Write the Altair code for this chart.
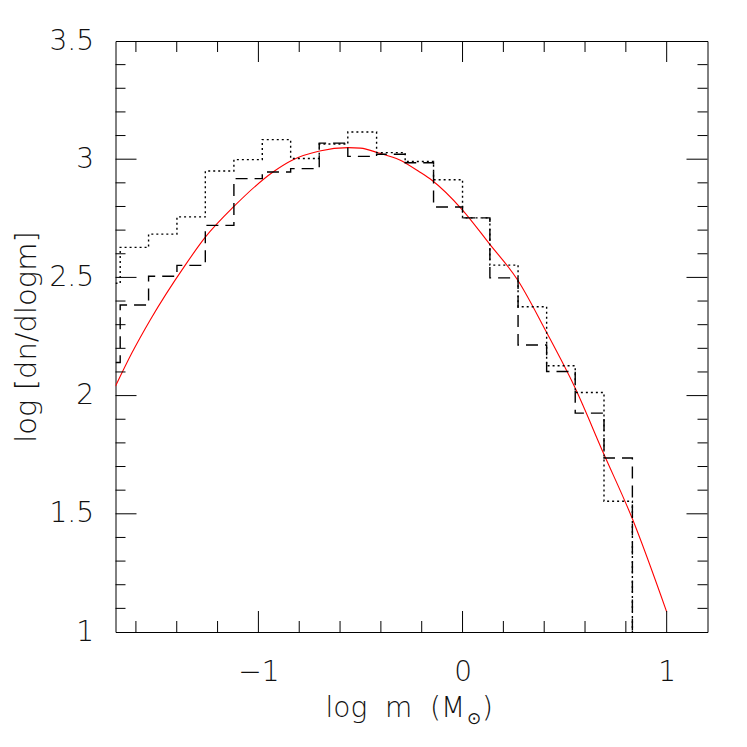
import altair as alt
import pandas as pd

# ---- data ----
bin_edges = [-1.700, -1.677, -1.538, -1.399, -1.260, -1.120, -0.981, -0.842, -0.702,
             -0.562, -0.421, -0.281, -0.142, 0.000, 0.134, 0.272, 0.412, 0.552, 0.693, 0.832]
dashed_vals = [2.14, 2.383, 2.505, 2.551, 2.720, 2.918, 2.946, 2.960, 3.068, 3.012,
               3.021, 2.985, 2.798, 2.752, 2.498, 2.214, 2.102, 1.926, 1.736, 1.0]
dotted_vals = [2.475, 2.627, 2.683, 2.756, 2.950, 2.998, 3.083, 3.003, 3.064, 3.115,
               3.028, 2.990, 2.913, 2.752, 2.552, 2.376, 2.126, 2.013, 1.553, 1.0]

curve_x = [-1.70, -1.62, -1.53, -1.36, -1.26, -1.12, -0.93, -0.83, -0.70, -0.56, -0.50,
           -0.41, -0.31, -0.21, -0.15, 0.00, 0.13, 0.27, 0.41, 0.55, 0.69, 0.83, 1.00]
curve_y = [2.04, 2.18, 2.32, 2.55, 2.67, 2.80, 2.945, 2.998, 3.035, 3.049, 3.047,
           3.026, 2.998, 2.946, 2.911, 2.785, 2.644, 2.489, 2.27, 2.035, 1.757, 1.483, 1.085]

x_major = [-1.0, 0.0, 1.0]
x_minor = [-1.6, -1.4, -1.2, -0.8, -0.6, -0.4, -0.2, 0.2, 0.4, 0.6, 0.8]
y_major = [1.5, 2.0, 2.5, 3.0]
y_minor = [1.1, 1.2, 1.3, 1.4, 1.6, 1.7, 1.8, 1.9, 2.1, 2.2, 2.3, 2.4,
           2.6, 2.7, 2.8, 2.9, 3.1, 3.2, 3.3, 3.4]
y_labels = [1.0, 1.5, 2.0, 2.5, 3.0, 3.5]

x_title_main = "log\u00a0\u00a0m\u00a0\u00a0(M"
x_title_sub = "\u2299"
x_title_end = ")"
y_title = "log\u00a0[dn/dlogm]"

W, H = 592, 591
FONT = "DejaVu Sans"
FW = 200
TXT = "#111"

xs = alt.Scale(domain=[-1.7, 1.2], nice=False, zero=False)
ys = alt.Scale(domain=[1.0, 3.5], nice=False, zero=False)

hist = pd.DataFrame({"edge": bin_edges, "dashed": dashed_vals, "dotted": dotted_vals})
curve = pd.DataFrame({"x": curve_x, "y": curve_y})

x_axis = alt.Axis(values=x_major, format="~g", ticks=False, domain=False, grid=False,
                  labelFontSize=28, labelFont=FONT, labelFontWeight=FW, labelColor=TXT,
                  labelPadding=26, title="")
y_axis = alt.Axis(values=y_labels, format="~g", ticks=False, domain=False, grid=False,
                  labelFontSize=28, labelFont=FONT, labelFontWeight=FW, labelColor=TXT,
                  labelPadding=22, title=y_title, titleFont=FONT,
                  titleFontSize=29, titleFontWeight=FW, titleColor=TXT,
                  titleX=-80, titleY=H / 2, titleBaseline="alphabetic", titleAngle=-90)

red = alt.Chart(curve).mark_line(color="#ff0000", strokeWidth=1.1, clip=True,
                                 interpolate="monotone").encode(
    x=alt.X("x:Q", scale=xs, axis=x_axis),
    y=alt.Y("y:Q", scale=ys, axis=y_axis),
)

dashed = alt.Chart(hist).mark_line(color="black", strokeWidth=1.4, strokeDash=[12, 7],
                                   interpolate="step-after", clip=True).encode(
    x=alt.X("edge:Q", scale=xs, axis=x_axis),
    y=alt.Y("dashed:Q", scale=ys, axis=y_axis),
)
dotted = alt.Chart(hist).mark_line(color="black", strokeWidth=1.4, strokeDash=[2, 3],
                                   interpolate="step-after", clip=True).encode(
    x=alt.X("edge:Q", scale=xs, axis=x_axis),
    y=alt.Y("dotted:Q", scale=ys, axis=y_axis),
)


def xticks(vals, length):
    df = pd.DataFrame({"v": vals})
    b = alt.Chart(df).mark_rule(color="black", strokeWidth=1).encode(
        x=alt.X("v:Q", scale=xs, axis=x_axis), y=alt.value(H), y2=alt.value(H - length))
    t = alt.Chart(df).mark_rule(color="black", strokeWidth=1).encode(
        x=alt.X("v:Q", scale=xs, axis=x_axis), y=alt.value(0), y2=alt.value(length))
    return [b, t]


def yticks(vals, length):
    df = pd.DataFrame({"v": vals})
    l = alt.Chart(df).mark_rule(color="black", strokeWidth=1).encode(
        y=alt.Y("v:Q", scale=ys, axis=y_axis), x=alt.value(0), x2=alt.value(length))
    r = alt.Chart(df).mark_rule(color="black", strokeWidth=1).encode(
        y=alt.Y("v:Q", scale=ys, axis=y_axis), x=alt.value(W), x2=alt.value(W - length))
    return [l, r]


def title_text(txt, px, py, size):
    df = pd.DataFrame({"t": [txt]})
    return alt.Chart(df).mark_text(font=FONT, fontWeight=FW, fontSize=size, color=TXT,
                                   align="left", baseline="alphabetic").encode(
        text="t:N", x=alt.value(px), y=alt.value(py))


xtitle = [title_text(x_title_main, 210, 676, 28),
          title_text(x_title_sub, 351.5, 683, 17),
          title_text(x_title_end, 366.5, 676, 28)]

layers = [red] + xticks(x_minor, 11) + xticks(x_major, 21) + yticks(y_minor, 10) + \
    yticks(y_major, 21) + [dotted, dashed] + xtitle

chart = alt.layer(*layers).properties(
    width=W, height=H,
    autosize=alt.AutoSizeParams(type="none"),
    padding={"left": 107.5, "top": 33, "right": 30, "bottom": 100},
    background="white",
).configure_view(stroke="black", strokeWidth=1)

chart.save("out.html", embed_options={"renderer": "svg", "actions": False})
